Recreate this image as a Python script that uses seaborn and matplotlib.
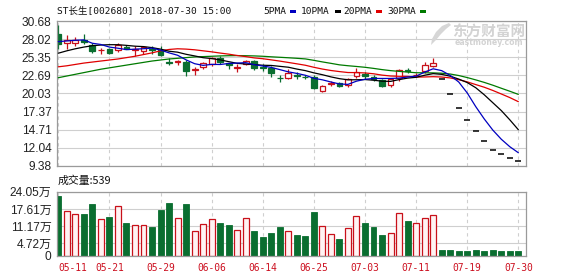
import matplotlib
matplotlib.use("Agg")
import matplotlib.pyplot as plt
from matplotlib.patches import Rectangle, Polygon
import numpy as np
import pandas as pd
import seaborn as sns

# ---------------- data ----------------
dates = ["05-11", "05-14", "05-15", "05-16", "05-17", "05-18", "05-21", "05-22", "05-23", "05-24",
         "05-25", "05-28", "05-29", "05-30", "05-31", "06-01", "06-04", "06-05", "06-06", "06-07",
         "06-08", "06-11", "06-12", "06-13", "06-14", "06-15", "06-19", "06-20", "06-21", "06-22",
         "06-25", "06-26", "06-27", "06-28", "06-29", "07-02", "07-03", "07-04", "07-05", "07-06",
         "07-09", "07-10", "07-11", "07-12", "07-13", "07-16", "07-17", "07-18", "07-19", "07-20",
         "07-24", "07-25", "07-26", "07-27", "07-30"]

opens = [28.73, 27.40, 27.40, 27.85, 27.15, 26.40, 26.50, 26.40, 26.90, 26.45,
         26.30, 26.60, 26.40, 24.70, 24.70, 24.65, 23.50, 23.85, 24.30, 25.30,
         24.45, 23.80, 24.35, 24.75, 23.90, 23.80, 22.35, 22.30, 22.75, 22.45,
         22.50, 20.40, 21.40, 21.60, 21.35, 22.60, 22.95, 22.50, 21.95, 21.35,
         22.30, 23.45, 22.70, 23.36, 24.05, 22.10, 19.89, 17.90, 16.11, 14.50,
         13.05, 11.75, 11.16, 10.60, 10.07]
highs = [30.06, 28.60, 28.30, 28.70, 27.50, 26.76, 26.70, 27.45, 27.20, 27.00,
         27.00, 27.00, 27.00, 25.30, 25.00, 25.00, 23.95, 24.60, 25.40, 25.50,
         24.55, 24.30, 24.90, 24.90, 24.30, 24.05, 22.80, 23.60, 23.20, 22.80,
         22.70, 21.35, 21.85, 21.70, 22.25, 23.80, 23.20, 22.70, 22.20, 22.30,
         23.65, 23.80, 23.00, 24.60, 25.28, 22.10, 19.89, 17.90, 16.11, 14.50,
         13.05, 11.75, 11.16, 10.60, 10.07]
lows = [26.60, 26.50, 27.00, 27.30, 26.00, 25.78, 25.90, 26.10, 26.50, 25.50,
        25.90, 25.80, 25.50, 24.15, 24.15, 22.60, 22.80, 23.65, 24.05, 24.30,
        23.65, 23.20, 24.15, 23.55, 23.30, 22.50, 21.70, 22.10, 22.10, 22.10,
        20.70, 20.20, 21.10, 21.00, 21.00, 22.30, 22.10, 21.80, 21.00, 21.00,
        21.85, 23.00, 22.50, 23.10, 23.90, 22.10, 19.89, 17.90, 16.11, 14.50,
        13.05, 11.75, 11.16, 10.60, 10.07]
closes = [27.35, 27.89, 27.94, 27.60, 26.27, 26.45, 26.00, 27.10, 26.60, 26.55,
          26.80, 26.40, 25.70, 24.55, 24.80, 23.40, 23.60, 24.45, 25.30, 24.70,
          24.15, 23.90, 24.75, 23.80, 23.75, 23.10, 22.30, 23.10, 22.65, 22.40,
          20.85, 21.20, 21.50, 21.20, 22.10, 23.20, 22.60, 22.10, 21.20, 22.10,
          23.45, 23.40, 22.80, 24.15, 24.55, 22.10, 19.89, 17.90, 16.11, 14.50,
          13.05, 11.75, 11.16, 10.60, 10.07]
volumes = [22.55, 16.8, 15.7, 15.7, 19.4, 13.8, 14.6, 18.7, 12.3, 11.6,
           11.6, 10.8, 17.2, 19.8, 14.2, 19.4, 9.3, 12.0, 13.8, 12.3,
           11.6, 9.7, 14.2, 9.3, 7.1, 8.6, 10.8, 9.3, 7.9, 7.5,
           16.4, 11.2, 8.2, 6.4, 10.5, 15.0, 12.3, 10.8, 7.9, 8.6,
           16.1, 13.1, 12.3, 14.2, 15.3, 2.2, 2.2, 1.9, 1.9, 2.2,
           1.9, 2.2, 2.0, 1.9, 1.9]

ma5 = [27.65, 27.75, 27.85, 27.90, 27.41, 27.23, 26.85, 26.68, 26.48, 26.54,
       26.61, 26.69, 26.41, 26.00, 25.65, 24.97, 24.41, 24.16, 24.31, 24.29,
       24.44, 24.50, 24.56, 24.26, 24.07, 23.86, 23.54, 23.21, 22.98, 22.71,
       22.26, 22.04, 21.72, 21.43, 21.37, 21.84, 22.12, 22.24, 22.24, 22.24,
       22.29, 22.45, 22.58, 23.17, 23.66, 23.39, 22.69, 21.72, 20.11, 18.10,
       16.29, 14.66, 13.31, 12.21, 11.33]
ma10 = [25.95, 26.30, 26.60, 26.85, 27.05, 27.15, 27.20, 27.20, 27.10, 26.98,
        26.92, 26.77, 26.55, 26.24, 26.10, 25.79, 25.55, 25.29, 25.16, 24.97,
        24.71, 24.46, 24.36, 24.29, 24.18, 24.15, 24.02, 23.89, 23.62, 23.39,
        23.06, 22.79, 22.47, 22.21, 22.04, 22.05, 22.08, 21.98, 21.84, 21.81,
        22.07, 22.29, 22.41, 22.71, 22.95, 22.84, 22.57, 22.15, 21.64, 20.88,
        19.84, 18.68, 17.52, 16.16, 14.71]
ma20 = [23.95, 24.10, 24.30, 24.50, 24.65, 24.80, 24.95, 25.10, 25.30, 25.50,
        25.75, 26.00, 26.30, 26.50, 26.60, 26.55, 26.45, 26.30, 26.15, 25.97,
        25.81, 25.61, 25.45, 25.26, 25.14, 24.97, 24.79, 24.59, 24.39, 24.18,
        23.88, 23.62, 23.41, 23.25, 23.11, 23.10, 23.05, 22.93, 22.73, 22.60,
        22.56, 22.54, 22.44, 22.46, 22.50, 22.45, 22.32, 22.06, 21.74, 21.34,
        20.95, 20.48, 19.96, 19.43, 18.83]
ma30 = [22.35, 22.60, 22.85, 23.10, 23.35, 23.60, 23.80, 24.00, 24.20, 24.40,
        24.60, 24.80, 24.95, 25.10, 25.20, 25.30, 25.40, 25.45, 25.50, 25.55,
        25.58, 25.60, 25.58, 25.55, 25.50, 25.42, 25.35, 25.28, 25.20, 25.11,
        24.90, 24.67, 24.46, 24.24, 24.11, 24.00, 23.88, 23.72, 23.54, 23.39,
        23.28, 23.18, 23.08, 23.07, 23.06, 23.01, 22.89, 22.67, 22.37, 22.03,
        21.66, 21.25, 20.80, 20.36, 19.90]

price_ticks = [9.38, 12.04, 14.71, 17.37, 20.03, 22.69, 25.35, 28.02, 30.68]
vol_ticks = [0, 4.72, 11.17, 17.61, 24.05]
vol_tick_labels = ["0", "4.72万", "11.17万", "17.61万", "24.05万"]
date_tick_labels = ["05-11", "05-21", "05-29", "06-06", "06-14",
                    "06-25", "07-03", "07-11", "07-19", "07-30"]
title_text = "ST长生[002680] 2018-07-30 15:00"
ma_names = ["5PMA", "10PMA", "20PMA", "30PMA"]
vol_title = "成交量:539"

# ---------------- style ----------------
sns.set_theme(style="white")
plt.rcParams["font.family"] = ["Liberation Sans", "Noto Sans CJK SC"]

RED = "#c8101a"
GREEN = "#0a6e30"
MA_COLORS = ["#0000c0", "#000000", "#e00000", "#007a00"]
GRID = "#cfcfcf"
SPINE = "#9a9a9a"
MONO = ["DejaVu Sans Mono", "Noto Sans CJK SC"]

W, H = 578, 276
fig = plt.figure(figsize=(W / 100, H / 100), dpi=100)
fig.patch.set_facecolor("white")

left_px, right_px = 57, 525.5
ax1 = fig.add_axes([left_px / W, 1 - 166 / H, (right_px - left_px) / W, (166 - 21) / H])
ax2 = fig.add_axes([left_px / W, 1 - 256 / H, (right_px - left_px) / W, (256 - 191.7) / H])

n = len(closes)
idx = np.arange(n)
xlim = (-0.153, 54.84)

# ---------------- candles ----------------
bw = 0.68
for i in range(n):
    o, h, l, c = opens[i], highs[i], lows[i], closes[i]
    if o == c == h == l:
        ax1.hlines(c, i - 0.36, i + 0.36, color="black", lw=1.1, zorder=3)
        continue
    if c > o:
        ax1.vlines(i, l, o, color=RED, lw=0.9, zorder=2)
        ax1.vlines(i, c, h, color=RED, lw=0.9, zorder=2)
        ax1.bar(i, c - o, bottom=o, width=bw, facecolor="white", edgecolor=RED,
                lw=0.9, zorder=2)
    else:
        ax1.vlines(i, l, h, color=GREEN, lw=0.9, zorder=2)
        body = max(o - c, 0.02)
        ax1.bar(i, body, bottom=c, width=bw, facecolor=GREEN, edgecolor=GREEN,
                lw=0.9, zorder=2)

# ---------------- moving averages ----------------
ma_df = pd.DataFrame({"idx": idx, "MA5": ma5, "MA10": ma10, "MA20": ma20, "MA30": ma30})
for col, colr in zip(["MA30", "MA20", "MA10", "MA5"], MA_COLORS[::-1]):
    sns.lineplot(data=ma_df, x="idx", y=col, ax=ax1, color=colr, lw=0.9,
                 legend=False, zorder=4)

ax1.set_xlim(*xlim)
ax1.set_ylim(price_ticks[0], price_ticks[-1])
ax1.set_yticks(price_ticks)
ax1.set_yticklabels([f"{t:.2f}" for t in price_ticks])
ax1.set_xlabel("")
ax1.set_ylabel("")

# ---------------- volume ----------------
vol_dir = []
for i in range(n):
    if closes[i] > opens[i]:
        vol_dir.append("up")
    elif closes[i] < opens[i]:
        vol_dir.append("down")
    else:
        prev = closes[i - 1] if i > 0 else closes[i]
        vol_dir.append("up" if closes[i] > prev else "down")

vol_df = pd.DataFrame({"idx": idx, "vol": volumes, "dir": vol_dir})
sns.barplot(data=vol_df, x="idx", y="vol", hue="dir", native_scale=True,
            dodge=False, width=0.7, palette={"up": RED, "down": GREEN},
            legend=False, ax=ax2, zorder=2)
for p in ax2.patches:
    i = int(round(p.get_x() + p.get_width() / 2))
    if 0 <= i < n:
        if vol_dir[i] == "up":
            p.set_facecolor("#fff3f3")
            p.set_edgecolor(RED)
            p.set_linewidth(0.9)
        else:
            p.set_facecolor(GREEN)
            p.set_edgecolor(GREEN)
            p.set_linewidth(0.6)

ax2.set_xlim(*xlim)
ax2.set_ylim(0, 24.05)
ax2.set_yticks(vol_ticks)
ax2.set_yticklabels(vol_tick_labels)
ax2.set_xlabel("")
ax2.set_ylabel("")

tick_pos = [dates.index(d) for d in date_tick_labels]
ax2.set_xticks(tick_pos)
ax2.set_xticklabels(date_tick_labels)
ax1.set_xticks(tick_pos)
ax1.set_xticklabels([])

# ---------------- axes styling ----------------
for ax in (ax1, ax2):
    ax.set_facecolor("white")
    for s in ax.spines.values():
        s.set_color(SPINE)
        s.set_linewidth(0.9)
        s.set_visible(True)
    ax.tick_params(axis="both", length=0, pad=4)
    for t in ax.get_yticklabels():
        t.set_fontsize(8.6)
        t.set_color("#222222")
        t.set_family(["Liberation Sans", "Noto Sans CJK SC"])
    ax.yaxis.grid(True, color=GRID, lw=0.8, ls="-")
    ax.xaxis.grid(True, color=GRID, lw=0.8, ls=(0, (3, 3)))
    ax.set_axisbelow(True)

for k, t in enumerate(ax2.get_xticklabels()):
    t.set_fontsize(6.9)
    t.set_color("#cc1020")
    t.set_family(MONO)
    if k == 0:
        t.set_ha("left")
ax2.tick_params(axis="x", pad=5)

# ---------------- header texts ----------------
fig.text(57 / W, 1 - 11.5 / H, title_text, fontsize=6.8, family=MONO,
         color="#111111", ha="left", va="center")
name_x = [263, 301, 343, 387]
rect_x = [290, 335, 376, 420]
for name, nx, rx, colr in zip(ma_names, name_x, rect_x, MA_COLORS):
    fig.text(nx / W, 1 - 11.5 / H, name, fontsize=6.8, family=MONO,
             color="#111111", ha="left", va="center")
    fig.patches.append(Rectangle((rx / W, 1 - 12.8 / H), 5.5 / W, 2.6 / H,
                                 transform=fig.transFigure, facecolor=colr,
                                 edgecolor="none"))

fig.text(58 / W, 1 - 180.5 / H, vol_title, fontsize=7.8,
         family=["Noto Sans CJK SC", "DejaVu Sans"], color="#111111",
         ha="left", va="center")

# watermark (logo swoosh + text)
logo_px = [(449, 23), (442, 26), (436, 32), (432, 39), (431, 45),
           (436, 40), (441, 34), (446, 29), (451, 25)]
fig.patches.append(Polygon([(x / W, 1 - y / H) for x, y in logo_px], closed=True,
                           transform=fig.transFigure, facecolor="#d6d6d6",
                           edgecolor="none"))
fig.text(489 / W, 1 - 31.5 / H, "东方财富网", fontsize=10.5, weight="bold",
         family=["Noto Sans CJK SC"], color="#d3d3d3", ha="center", va="center")
fig.text(489 / W, 1 - 42.5 / H, "eastmoney.com", fontsize=5.6, weight="bold",
         family=["DejaVu Sans"], color="#d3d3d3", ha="center", va="center")

fig.savefig("out.png", dpi=100, facecolor="white")
